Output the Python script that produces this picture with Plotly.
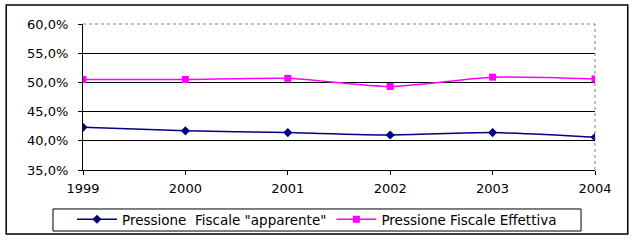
import plotly.graph_objects as go

years = [1999, 2000, 2001, 2002, 2003, 2004]
apparente = [42.3, 41.7, 41.4, 41.0, 41.4, 40.6]
effettiva = [50.5, 50.5, 50.7, 49.3, 50.9, 50.6]
y_ticks = [35, 40, 45, 50, 55, 60]
y_labels = ["35,0%", "40,0%", "45,0%", "50,0%", "55,0%", "60,0%"]
name_a = 'Pressione  Fiscale "apparente"'
name_e = "Pressione Fiscale Effettiva"

fig = go.Figure()
fig.add_trace(go.Scatter(x=years, y=apparente, name=name_a, mode="lines+markers",
                         line=dict(color="#000080", width=1.5, shape="spline", smoothing=0.6),
                         marker=dict(symbol="diamond", size=7, color="#000080")))
fig.add_trace(go.Scatter(x=years, y=effettiva, name=name_e, mode="lines+markers",
                         line=dict(color="#FF00FF", width=1.5, shape="spline", smoothing=0.6),
                         marker=dict(symbol="square", size=7, color="#FF00FF")))

font = "DejaVu Sans, Arial, sans-serif"
fig.update_layout(
    width=637, height=241,
    margin=dict(l=83, r=42, t=24, b=71),
    paper_bgcolor="white", plot_bgcolor="white",
    font=dict(family=font, size=13, color="black"),
    showlegend=True,
    legend=dict(orientation="h", xref="container", yref="container",
                x=317 / 637, xanchor="center", y=1 - 204 / 241, yanchor="top",
                bgcolor="rgba(0,0,0,0)", borderwidth=0, font=dict(size=13.5),
                itemwidth=40, tracegroupgap=0),
    xaxis=dict(range=[1999, 2004], tickvals=years, ticktext=[str(y) for y in years],
               showgrid=False, zeroline=False, showline=True, linecolor="black", linewidth=1,
               ticks="outside", ticklen=4, tickcolor="black", automargin=False,
               ticklabelstandoff=2),
    yaxis=dict(range=[35, 60], tickvals=y_ticks, ticktext=y_labels,
               showgrid=True, gridcolor="black", gridwidth=1, zeroline=False,
               showline=True, linecolor="black", linewidth=1,
               ticks="outside", ticklen=4, tickcolor="black", automargin=False,
               ticklabelstandoff=7),
)
# plot area top & right dotted borders
fig.add_shape(type="line", xref="paper", yref="paper", x0=0, x1=1, y0=1, y1=1,
              line=dict(color="white", width=1.5), layer="above")
fig.add_shape(type="line", xref="paper", yref="paper", x0=0, x1=1, y0=1, y1=1,
              line=dict(color="#808080", width=1, dash="dot"), layer="above")
fig.add_shape(type="line", xref="paper", yref="paper", x0=1, x1=1, y0=0, y1=1,
              line=dict(color="#808080", width=1, dash="dot"), layer="above")
# legend frame
fig.add_shape(type="rect", xref="paper", yref="paper", x0=-0.0586, x1=0.9727, y0=-0.418, y1=-0.267,
              line=dict(color="black", width=1), layer="below")
# outer chart border
fig.add_shape(type="rect", xref="paper", yref="paper", x0=-0.150, x1=1.064, y0=-0.438, y1=1.130,
              line=dict(color="black", width=1.5), layer="below")

fig.write_html("out.html", config={"displayModeBar": False},
               post_script="document.body.style.margin='0px';document.body.style.overflow='hidden';")
